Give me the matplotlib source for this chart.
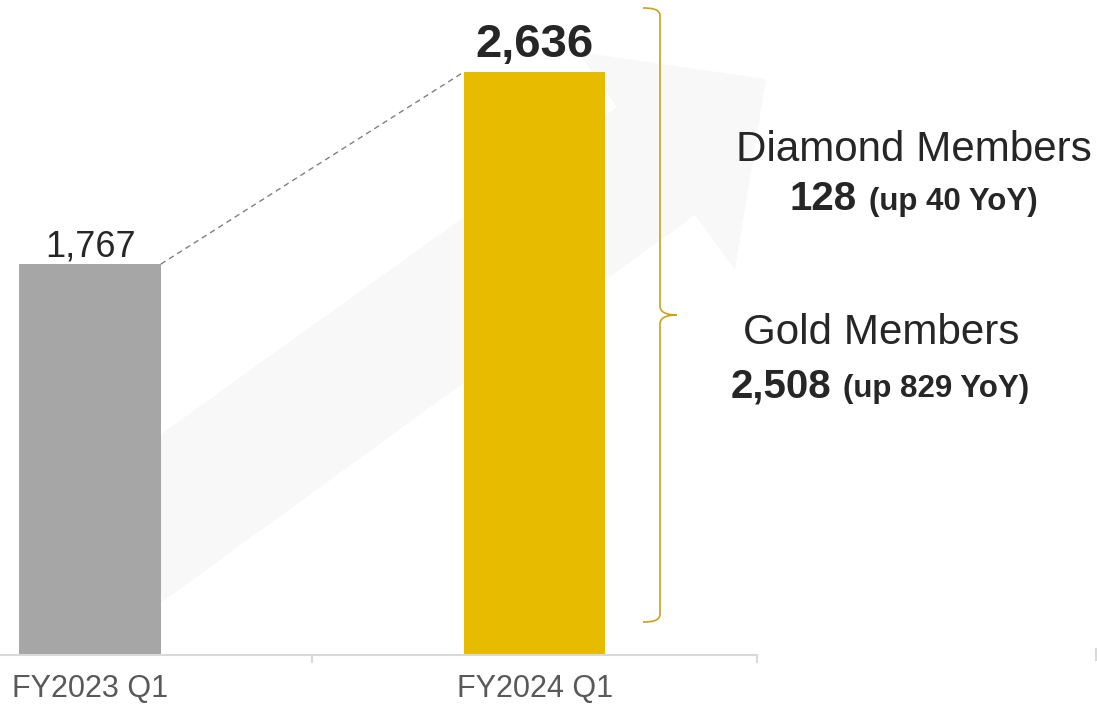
import matplotlib.pyplot as plt
from matplotlib.path import Path
from matplotlib.patches import PathPatch, Polygon

plt.rcParams['font.family'] = ['Liberation Sans', 'DejaVu Sans']

# members per quarter
categories = ['FY2023 Q1', 'FY2024 Q1']
members = [1767, 2636]
bar_colors = ['#a6a6a6', '#e6bb00']

# FY2024 Q1 breakdown
tiers = ['Diamond Members', 'Gold Members']
tier_counts = [128, 2508]
tier_growth = [40, 829]

W, H = 1097, 705
fig = plt.figure(figsize=(W / 100, H / 100), dpi=100)

# background layer in pixel units: growth arrow, brace, side notes
bg = fig.add_axes([0, 0, 1, 1], zorder=0)
bg.set_xlim(0, W)
bg.set_ylim(H, 0)
bg.axis('off')

arrow_pts = [(100, 478), (617, 107), (578, 52), (766, 79),
             (735, 270), (695, 215), (100, 647)]
bg.add_patch(Polygon(arrow_pts, closed=True, facecolor='#f8f8f8', edgecolor='none'))

brace = Path(
    [(643, 8), (652, 8), (660, 9), (660, 16),
     (660, 306),
     (660, 312), (666, 315), (677, 315),
     (666, 315), (660, 318), (660, 324),
     (660, 614),
     (660, 621), (652, 622), (643, 622)],
    [Path.MOVETO, Path.CURVE4, Path.CURVE4, Path.CURVE4,
     Path.LINETO,
     Path.CURVE4, Path.CURVE4, Path.CURVE4,
     Path.CURVE4, Path.CURVE4, Path.CURVE4,
     Path.LINETO,
     Path.CURVE4, Path.CURVE4, Path.CURVE4])
bg.add_patch(PathPatch(brace, facecolor='none', edgecolor='#c9a21b', lw=1.2))

# stub of the neighbouring axis on the right edge
bg.plot([1096, 1096], [649, 660], color='#d9d9d9', lw=1.5)

dark = '#262626'
note_x = [914, 881]
title_y = [161, 344]
count_y = [210, 397]
split_x = [857, 831]
for i in range(2):
    bg.text(note_x[i], title_y[i], tiers[i], ha='center', va='baseline',
            fontsize=30.3, color=dark)
    bg.text(split_x[i], count_y[i], f'{tier_counts[i]:,}', ha='right', va='baseline',
            fontsize=29, fontweight='bold', color=dark)
    bg.text(split_x[i] + 12, count_y[i], f'(up {tier_growth[i]} YoY)', ha='left',
            va='baseline', fontsize=22.5, fontweight='bold', color=dark)

# bar chart
ax = fig.add_axes([0, 50 / H, 757 / W, 655 / H], zorder=1)
ax.set_facecolor('none')
x = [0, 1]
width = 0.318
ax.bar(x, members, width=width, color=bar_colors, zorder=2)
ax.set_xlim(-0.2027, 1.5)
ax.set_ylim(0, 2961)

# dashed connector between the two bar tops
ax.plot([x[0] + width / 2, x[1] - width / 2], members, color='#808080',
        lw=1, ls=(0, (4, 3)), zorder=1)

ax.annotate(f'{members[0]:,}', (x[0], members[0]), xytext=(0, 5.8),
            textcoords='offset points', ha='center', va='baseline',
            fontsize=26, color=dark)
ax.annotate(f'{members[1]:,}', (x[1], members[1]), xytext=(0, 11),
            textcoords='offset points', ha='center', va='baseline',
            fontsize=34, fontweight='bold', color=dark)

for side in ['top', 'right', 'left']:
    ax.spines[side].set_visible(False)
ax.spines['bottom'].set_color('#d9d9d9')
ax.spines['bottom'].set_linewidth(1.5)
ax.set_yticks([])
ax.set_xticks(x)
ax.set_xticklabels(categories, fontsize=22, color='#595959')
ax.tick_params(axis='x', which='major', length=0, pad=13.5)
ax.set_xticks([0.5, 1.5], minor=True)
ax.tick_params(axis='x', which='minor', length=6, width=1.5, color='#d9d9d9',
               direction='out')

fig.savefig('out.png', dpi=100)
